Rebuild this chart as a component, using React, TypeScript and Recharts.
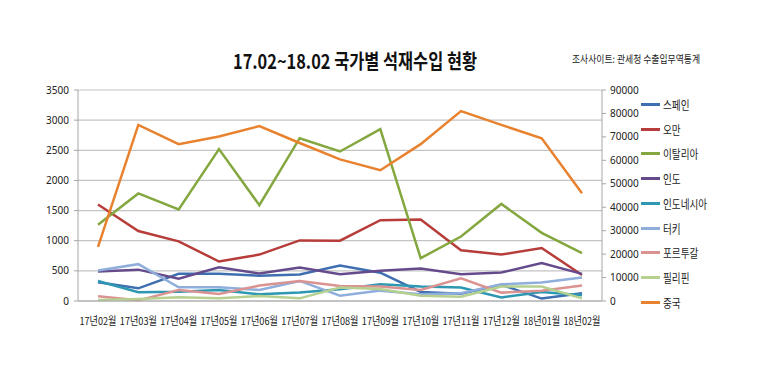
import React from 'react';
import { LineChart, Line, XAxis, YAxis, CartesianGrid, Legend } from 'recharts';

const categories = ['17년02월', '17년03월', '17년04월', '17년05월', '17년06월', '17년07월', '17년08월', '17년09월', '17년10월', '17년11월', '17년12월', '18년01월', '18년02월'];
const spain = [310, 210, 450, 450, 420, 440, 590, 470, 150, 120, 270, 40, 130];
const oman = [1600, 1160, 990, 655, 770, 1005, 1000, 1340, 1350, 840, 770, 880, 430];
const italy = [1265, 1785, 1520, 2520, 1590, 2700, 2480, 2850, 710, 1070, 1610, 1130, 795];
const india = [490, 520, 370, 560, 455, 556, 445, 500, 540, 445, 472, 628, 450];
const indonesia = [333, 144, 155, 183, 111, 139, 194, 278, 239, 225, 60, 150, 95];
const turkey = [505, 611, 228, 228, 183, 333, 89, 172, 111, 128, 278, 306, 389];
const portugal = [78, 11, 183, 117, 256, 333, 250, 239, 183, 378, 139, 172, 256];
const philippines = [17, 33, 61, 44, 83, 44, 222, 200, 89, 72, 239, 239, 44];
const china = [23100, 75100, 66900, 70200, 74600, 67400, 60400, 55800, 66900, 81000, 75100, 69400, 46000];

const leftTicks = [0, 500, 1000, 1500, 2000, 2500, 3000, 3500];
const rightTicks = [0, 10000, 20000, 30000, 40000, 50000, 60000, 70000, 80000, 90000];

const seriesDefs = [
  { name: '스페인', values: spain, color: '#3E6FB1', axis: 'left' },
  { name: '오만', values: oman, color: '#B73D3A', axis: 'left' },
  { name: '이탈리아', values: italy, color: '#84A73F', axis: 'left' },
  { name: '인도', values: india, color: '#664B8C', axis: 'left' },
  { name: '인도네시아', values: indonesia, color: '#2E98B2', axis: 'left' },
  { name: '터키', values: turkey, color: '#8FAEDB', axis: 'left' },
  { name: '포르투갈', values: portugal, color: '#DB9392', axis: 'left' },
  { name: '필리핀', values: philippines, color: '#B6D08F', axis: 'left' },
  { name: '중국', values: china, color: '#E8822E', axis: 'right' },
];

const data = categories.map((c, i) => {
  const row: Record<string, string | number> = { month: c };
  seriesDefs.forEach((s) => {
    row[s.name] = s.values[i];
  });
  return row;
});

const KR = '"Noto Sans CJK KR", "Noto Sans", sans-serif';
const NUM = '"Noto Sans", "Liberation Sans", sans-serif';

const XTick = (props: any) => {
  const { x, y, payload } = props;
  return (
    <text
      x={x}
      y={y + 24}
      textAnchor="middle"
      fontFamily={KR}
      fontSize={11}
      fill="#222"
      textLength={37}
      lengthAdjust="spacingAndGlyphs"
    >
      {payload.value}
    </text>
  );
};

const renderLegend = () => (
  <div style={{ fontFamily: KR, fontSize: 12, color: '#222' }}>
    {seriesDefs.map((s) => (
      <div key={s.name} style={{ display: 'flex', alignItems: 'center', height: 24.75, whiteSpace: 'nowrap' }}>
        <span style={{ display: 'inline-block', width: 19, height: 3, background: s.color, marginRight: 3 }} />
        <span style={{ display: 'inline-block', transform: 'scaleX(0.8)', transformOrigin: 'left center' }}>{s.name}</span>
      </div>
    ))}
  </div>
);

export default function App() {
  return (
    <div style={{ position: 'absolute', left: 0, top: 0, width: 760, height: 376, background: '#fff' }}>
      <LineChart width={760} height={376} data={data} margin={{ top: 90, right: 0, bottom: 0, left: 0 }}>
        <CartesianGrid vertical={false} stroke="#C4C4C4" strokeWidth={1.2} yAxisId="left" />
        <XAxis
          dataKey="month"
          height={75}
          padding={{ left: 20, right: 20 }}
          tickLine={false}
          tickSize={0}
          tickMargin={0}
          axisLine={{ stroke: '#A6A6A6' }}
          tick={<XTick />}
          interval={0}
        />
        <YAxis
          yAxisId="left"
          width={78}
          domain={[0, 3500]}
          ticks={leftTicks}
          interval={0}
          tickSize={4}
          tickMargin={5}
          axisLine={{ stroke: '#A6A6A6' }}
          tickLine={{ stroke: '#A6A6A6' }}
          tick={{ fontFamily: NUM, fontSize: 10, fill: '#222' }}
        />
        <YAxis
          yAxisId="right"
          orientation="right"
          width={158}
          domain={[0, 90000]}
          ticks={rightTicks}
          interval={0}
          tickSize={4}
          tickMargin={4}
          axisLine={{ stroke: '#A6A6A6' }}
          tickLine={{ stroke: '#A6A6A6' }}
          tick={{ fontFamily: NUM, fontSize: 10, fill: '#222' }}
        />
        <Legend
          layout="vertical"
          align="center"
          verticalAlign="middle"
          content={renderLegend}
          wrapperStyle={{ left: 641, top: 92, width: 115, height: 230 }}
        />
        {seriesDefs.map((s) => (
          <Line
            key={s.name}
            yAxisId={s.axis}
            type="linear"
            dataKey={s.name}
            stroke={s.color}
            strokeWidth={2.5}
            dot={false}
            activeDot={false}
            isAnimationActive={false}
          />
        ))}
      </LineChart>
      <svg width={760} height={376} style={{ position: 'absolute', left: 0, top: 0, pointerEvents: 'none' }}>
        <text
          x={233}
          y={69}
          fontFamily={KR}
          fontWeight="bold"
          fontSize={20}
          fill="#111"
          textLength={244}
          lengthAdjust="spacingAndGlyphs"
        >
          17.02~18.02 국가별 석재수입 현황
        </text>
        <text
          x={572}
          y={63}
          fontFamily={KR}
          fontSize={10.5}
          fill="#222"
          textLength={128}
          lengthAdjust="spacingAndGlyphs"
        >
          조사사이트: 관세청 수출입무역통계
        </text>
      </svg>
    </div>
  );
}
